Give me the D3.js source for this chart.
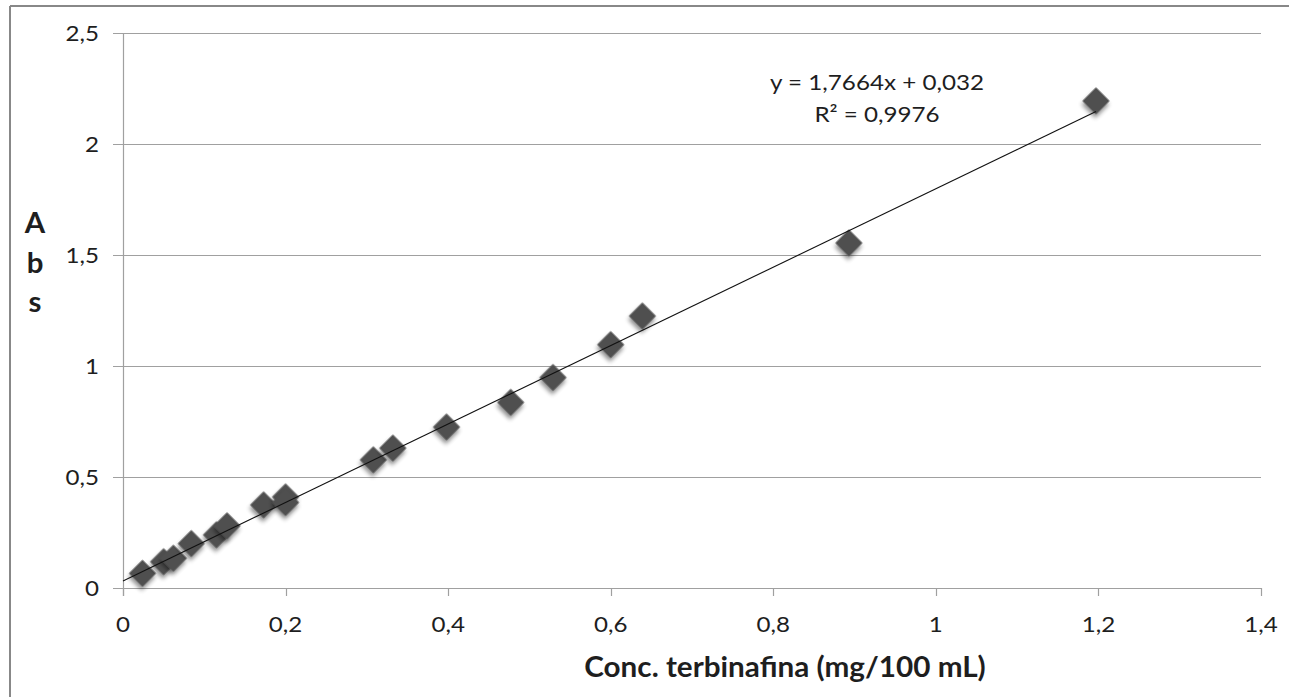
<!DOCTYPE html>
<html>
<head>
<meta charset="utf-8">
<script src="https://cdn.jsdelivr.net/npm/d3@7"></script>
<style>
  body { margin: 0; background: #fff; }
  text { font-family: Lato, "Open Sans", sans-serif; fill: #1e1e1e; }
</style>
</head>
<body>
<script>
// concentration (mg/100 mL) and absorbance
var concValues = [0.024, 0.050, 0.062, 0.084, 0.115, 0.128, 0.173, 0.200, 0.200, 0.308, 0.332,
                  0.398, 0.477, 0.529, 0.600, 0.639, 0.893, 1.197];
var absValues  = [0.066, 0.118, 0.134, 0.200, 0.239, 0.280, 0.374, 0.410, 0.385, 0.577, 0.630,
                  0.725, 0.836, 0.948, 1.096, 1.225, 1.554, 2.194];
var xTicks = [0, 0.2, 0.4, 0.6, 0.8, 1, 1.2, 1.4];
var yTicks = [0, 0.5, 1, 1.5, 2, 2.5];
var slope = 1.7664, intercept = 0.032;

var points = concValues.map(function(c, i) { return { x: c, y: absValues[i] }; });

var width = 1289, height = 697;
var svg = d3.select("body").append("svg")
  .attr("width", width)
  .attr("height", height);

var defs = svg.append("defs");
var f = defs.append("filter").attr("id", "shadow")
  .attr("x", "-50%").attr("y", "-50%").attr("width", "200%").attr("height", "200%");
f.append("feGaussianBlur").attr("in", "SourceAlpha").attr("stdDeviation", 2).attr("result", "b");
f.append("feOffset").attr("in", "b").attr("dx", 1.5).attr("dy", 2.5).attr("result", "o");
f.append("feComponentTransfer").attr("in", "o").attr("result", "s")
  .append("feFuncA").attr("type", "linear").attr("slope", 0.45);
var m = f.append("feMerge");
m.append("feMergeNode").attr("in", "s");
m.append("feMergeNode").attr("in", "SourceGraphic");

// outer frame (top and left edges only visible)
svg.append("line").attr("x1", 10).attr("x2", width).attr("y1", 6).attr("y2", 6)
  .attr("stroke", "#888").attr("stroke-width", 2);
svg.append("line").attr("x1", 10).attr("x2", 10).attr("y1", 6).attr("y2", height)
  .attr("stroke", "#888").attr("stroke-width", 2);

var x = d3.scaleLinear().domain([0, 1.4]).range([123, 1261]);
var y = d3.scaleLinear().domain([0, 2.5]).range([588, 33]);

// horizontal gridlines
svg.selectAll(".grid").data(yTicks).enter().append("line")
  .attr("x1", 113).attr("x2", 1261)
  .attr("y1", function(d) { return Math.round(y(d)) + 0.5; })
  .attr("y2", function(d) { return Math.round(y(d)) + 0.5; })
  .attr("stroke", "#a0a0a0").attr("stroke-width", 1.2);

// y axis line
svg.append("line").attr("x1", 123.5).attr("x2", 123.5).attr("y1", 33).attr("y2", 596)
  .attr("stroke", "#a0a0a0").attr("stroke-width", 1.2);

// x ticks
svg.selectAll(".xtick").data(xTicks).enter().append("line")
  .attr("x1", function(d) { return Math.round(x(d)) + 0.5; })
  .attr("x2", function(d) { return Math.round(x(d)) + 0.5; })
  .attr("y1", 588).attr("y2", 596)
  .attr("stroke", "#a0a0a0").attr("stroke-width", 1.2);

var fmt = function(d) { return String(d).replace(".", ","); };
// text slightly stretched sideways, like the reference
function place(px, py, sx) { return "translate(" + px + "," + py + ") scale(" + sx + ",1)"; }

svg.selectAll(".ylab").data(yTicks).enter().append("text")
  .attr("transform", function(d) { return place(99, y(d) + 8, 1.15); })
  .attr("text-anchor", "end")
  .style("font-size", "21px")
  .text(fmt);

svg.selectAll(".xlab").data(xTicks).enter().append("text")
  .attr("transform", function(d) { return place(x(d), 632, 1.15); })
  .attr("text-anchor", "middle")
  .style("font-size", "21px")
  .text(fmt);

// axis titles
svg.append("text").attr("transform", place(785, 677, 1.06))
  .attr("text-anchor", "middle")
  .style("font-size", "28px").style("font-weight", "bold")
  .text("Conc. terbinafina (mg/100 mL)");

svg.selectAll(".ytitle").data(["A", "b", "s"]).enter().append("text")
  .attr("transform", function(d, i) { return place(35, 233 + i * 39.5, 1.05); })
  .attr("text-anchor", "middle")
  .style("font-size", "28px").style("font-weight", "bold")
  .text(function(d) { return d; });

// markers
svg.selectAll(".pt").data(points).enter().append("path")
  .attr("d", d3.symbol().type(d3.symbolSquare).size(370))
  .attr("transform", function(d) { return "translate(" + x(d.x) + "," + y(d.y) + ") rotate(45)"; })
  .attr("fill", "#4f4f4f")
  .attr("filter", "url(#shadow)");

// trendline
var xMax = d3.max(concValues);
svg.append("line")
  .attr("x1", x(0)).attr("y1", y(intercept))
  .attr("x2", x(xMax)).attr("y2", y(slope * xMax + intercept))
  .attr("stroke", "#111").attr("stroke-width", 1.1);

// equation label
svg.append("text").attr("transform", place(877, 90, 1.1))
  .attr("text-anchor", "middle").style("font-size", "22px")
  .text("y = " + fmt(slope) + "x + " + fmt(intercept));
svg.append("text").attr("transform", place(877, 122, 1.1))
  .attr("text-anchor", "middle").style("font-size", "22px")
  .text("R² = 0,9976");
</script>
</body>
</html>
